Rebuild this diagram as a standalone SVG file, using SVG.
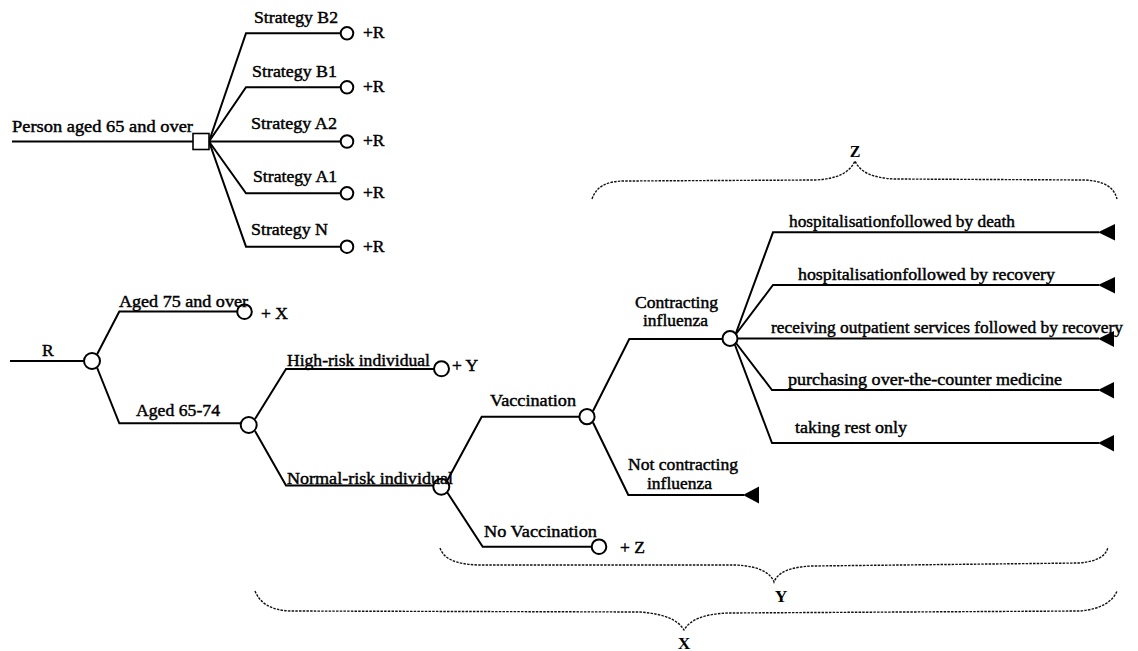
<svg xmlns="http://www.w3.org/2000/svg" width="1138" height="651" viewBox="0 0 1138 651">
<style>
.c{fill:none;stroke:#000;stroke-width:2;stroke-linejoin:miter}
.ch{fill:#fff;stroke:#000;stroke-width:2}
.dec{fill:#fff;stroke:#000;stroke-width:1.6}
.term{fill:#000;stroke:none}
.br{fill:none;stroke:#111;stroke-width:1.4;stroke-dasharray:2.5 1.2}
text{font-family:"Liberation Serif","Times New Roman",serif;font-size:17.5px;fill:#000;stroke:#000;stroke-width:0.45}
.b{font-weight:bold;stroke-width:0}
</style>
<rect width="1138" height="651" fill="#fff"/>
<g id="connectors">
<path class="c" d="M12,141.5 H193"/>
<path class="c" d="M209,141.5 L246,33.3 H341"/>
<path class="c" d="M209,141.5 L246,87.3 H341"/>
<path class="c" d="M209,141.5 H341"/>
<path class="c" d="M209,141.5 L246,193.3 H341"/>
<path class="c" d="M209,141.5 L246,246.7 H341"/>
<path class="c" d="M10,361 H84"/>
<path class="c" d="M97,354.5 L119.3,311.5 H237"/>
<path class="c" d="M97,367.5 L119.3,423.3 H241"/>
<path class="c" d="M255,419 L286,369 H434"/>
<path class="c" d="M255,431 L286,485.5 H434"/>
<path class="c" d="M447,481 L481.7,416.7 H579.5"/>
<path class="c" d="M447,492 L482.7,546.7 H592"/>
<path class="c" d="M593,411 L629.3,339 H722.5"/>
<path class="c" d="M593,422.5 L628.3,495 H744"/>
<path class="c" d="M736,333 L773,232.3 H1099"/>
<path class="c" d="M736,334 L773,285 H1099"/>
<path class="c" d="M737.5,338.5 H1099"/>
<path class="c" d="M736,343 L772,390 H1099"/>
<path class="c" d="M735,345 L772,443 H1099"/>
</g>
<g id="node-root"><rect class="dec" x="193" y="133.5" width="16" height="16"/></g>
<g id="node-b2"><circle class="ch" cx="347" cy="33.3" r="6.3"/></g>
<g id="node-b1"><circle class="ch" cx="347" cy="87.3" r="6.3"/></g>
<g id="node-a2"><circle class="ch" cx="347" cy="141.5" r="6.3"/></g>
<g id="node-a1"><circle class="ch" cx="347" cy="193.3" r="6.3"/></g>
<g id="node-n"><circle class="ch" cx="347" cy="246.7" r="6.3"/></g>
<g id="node-r"><circle class="ch" cx="92" cy="361" r="8"/></g>
<g id="node-75"><circle class="ch" cx="244.5" cy="311.7" r="7.3"/></g>
<g id="node-6574"><circle class="ch" cx="248.7" cy="425" r="8"/></g>
<g id="node-high"><circle class="ch" cx="441.5" cy="368.8" r="7.5"/></g>
<g id="node-normal"><circle class="ch" cx="441.3" cy="486.7" r="8"/></g>
<g id="node-vacc"><circle class="ch" cx="587" cy="416.7" r="7.6"/></g>
<g id="node-novacc"><circle class="ch" cx="599" cy="546.7" r="7.3"/></g>
<g id="node-contract"><circle class="ch" cx="730" cy="338.5" r="7.5"/></g>
<g id="node-notcontract"><polygon class="term" points="743,495 759,486.5 759,503.5"/></g>
<g id="node-death"><polygon class="term" points="1098,232.3 1115,224 1115,240.5"/></g>
<g id="node-hosprec"><polygon class="term" points="1098,285 1115,277 1115,293.5"/></g>
<g id="node-outpat"><polygon class="term" points="1098,338.8 1114,331 1114,347"/></g>
<g id="node-otc"><polygon class="term" points="1098,390 1114,382 1114,398.5"/></g>
<g id="node-rest"><polygon class="term" points="1098,443 1114,435 1114,451.5"/></g>
<g id="labels">
<text x="12" y="132" textLength="181" lengthAdjust="spacingAndGlyphs">Person aged 65 and over</text>
<text x="254" y="23" textLength="84" lengthAdjust="spacingAndGlyphs">Strategy B2</text>
<text x="252" y="76.5" textLength="85" lengthAdjust="spacingAndGlyphs">Strategy B1</text>
<text x="251" y="129" textLength="86" lengthAdjust="spacingAndGlyphs">Strategy A2</text>
<text x="253" y="182" textLength="84" lengthAdjust="spacingAndGlyphs">Strategy A1</text>
<text x="251" y="235" textLength="77" lengthAdjust="spacingAndGlyphs">Strategy N</text>
<text x="363" y="37.5">+R</text>
<text x="363" y="92">+R</text>
<text x="363" y="145.5">+R</text>
<text x="363" y="198">+R</text>
<text x="363" y="252">+R</text>
<text x="42" y="356">R</text>
<text x="119" y="307" textLength="129" lengthAdjust="spacingAndGlyphs">Aged 75 and over</text>
<text x="261" y="318.5">+ X</text>
<text x="136" y="416" textLength="84" lengthAdjust="spacingAndGlyphs">Aged 65-74</text>
<text x="287" y="366" textLength="143" lengthAdjust="spacingAndGlyphs">High-risk individual</text>
<text x="452" y="371">+ Y</text>
<text x="287" y="483.5" textLength="166" lengthAdjust="spacingAndGlyphs">Normal-risk individual</text>
<text x="490" y="406" textLength="86" lengthAdjust="spacingAndGlyphs">Vaccination</text>
<text x="484" y="537" textLength="113" lengthAdjust="spacingAndGlyphs">No Vaccination</text>
<text x="620" y="552.5">+ Z</text>
<text><tspan x="635" y="308" textLength="83" lengthAdjust="spacingAndGlyphs">Contracting</tspan><tspan x="643" y="326" textLength="65" lengthAdjust="spacingAndGlyphs">influenza</tspan></text>
<text><tspan x="628" y="470" textLength="110" lengthAdjust="spacingAndGlyphs">Not contracting</tspan><tspan x="647" y="488.5" textLength="65" lengthAdjust="spacingAndGlyphs">influenza</tspan></text>
<text x="789" y="227" textLength="226" lengthAdjust="spacingAndGlyphs">hospitalisationfollowed by death</text>
<text x="798" y="280" textLength="257" lengthAdjust="spacingAndGlyphs">hospitalisationfollowed by recovery</text>
<text x="771" y="333" textLength="352" lengthAdjust="spacingAndGlyphs">receiving outpatient services followed by recovery</text>
<text x="788" y="385" textLength="274" lengthAdjust="spacingAndGlyphs">purchasing over-the-counter medicine</text>
<text x="795" y="433" textLength="112" lengthAdjust="spacingAndGlyphs">taking rest only</text>
</g>
<g id="brace-z">
<path class="br" d="M592,199 C596,187 606,181 625,181 L815,180 C838,179 850,172 855,161 C860,172 872,178 895,179 L1085,180 C1104,181 1114,187 1117,199"/>
<text class="b" x="855" y="157" text-anchor="middle" style="font-size:16px">Z</text>
</g>
<g id="brace-y">
<path class="br" d="M440,548 C444,559 455,564 478,565 L735,565 C758,566 770,572 774,582 C778,572 790,567 812,566 L1080,563 C1098,561 1106,556 1108,547"/>
<text class="b" x="781" y="602" text-anchor="middle">Y</text>
</g>
<g id="brace-x">
<path class="br" d="M255,591 C260,603 270,610 290,611 L640,612 C665,614 678,620 684,630 C690,620 703,614 728,613 L1080,611 C1102,609 1113,601 1117,591"/>
<text class="b" x="684" y="649" text-anchor="middle">X</text>
</g>
</svg>
